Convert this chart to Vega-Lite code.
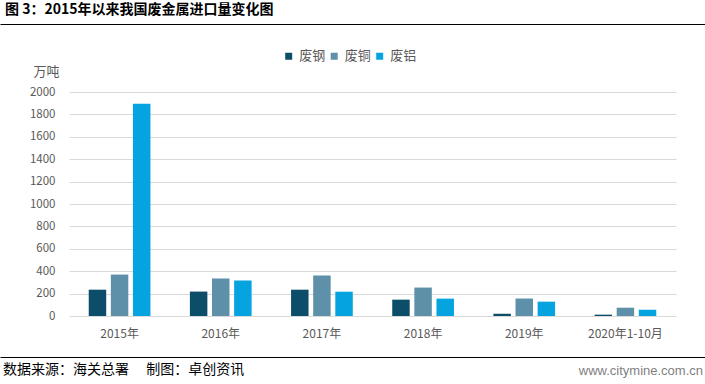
{
  "$schema": "https://vega.github.io/schema/vega-lite/v6.json",
  "padding": 0,
  "autosize": {"type": "pad"},
  "background": "white",
  "spacing": 0,
  "bounds": "full",
  "resolve": {"scale": {"color": "independent"}, "legend": {"color": "independent"}},
  "config": {
    "view": {"stroke": null},
    "font": "Noto Sans CJK SC",
    "concat": {"spacing": 0}
  },
  "datasets": {
    "imports": [
      {"period": "2015年", "metal": "废钢", "tons": 235},
      {"period": "2015年", "metal": "废铜", "tons": 370},
      {"period": "2015年", "metal": "废铝", "tons": 1895},
      {"period": "2016年", "metal": "废钢", "tons": 218},
      {"period": "2016年", "metal": "废铜", "tons": 335},
      {"period": "2016年", "metal": "废铝", "tons": 317},
      {"period": "2017年", "metal": "废钢", "tons": 235},
      {"period": "2017年", "metal": "废铜", "tons": 362},
      {"period": "2017年", "metal": "废铝", "tons": 217},
      {"period": "2018年", "metal": "废钢", "tons": 146},
      {"period": "2018年", "metal": "废铜", "tons": 254},
      {"period": "2018年", "metal": "废铝", "tons": 155},
      {"period": "2019年", "metal": "废钢", "tons": 20},
      {"period": "2019年", "metal": "废铜", "tons": 156},
      {"period": "2019年", "metal": "废铝", "tons": 128},
      {"period": "2020年1-10月", "metal": "废钢", "tons": 12},
      {"period": "2020年1-10月", "metal": "废铜", "tons": 74},
      {"period": "2020年1-10月", "metal": "废铝", "tons": 56}
    ]
  },
  "vconcat": [
    {
      "width": 705,
      "height": 17,
      "data": {"values": [{"label": "图 3：2015年以来我国废金属进口量变化图"}]},
      "mark": {"type": "text", "align": "left", "baseline": "middle", "dx": -64, "dy": 1.8, "fontSize": 14, "fontWeight": "bold", "color": "#000000", "font": "Noto Sans CJK SC"},
      "encoding": {
        "x": {"datum": 1, "type": "quantitative", "scale": {"domain": [1, 2]}, "axis": null},
        "text": {"field": "label"}
      }
    },
    {
      "width": 705,
      "height": 1,
      "data": {"values": [{"blank": ""}]},
      "mark": {"type": "text"},
      "encoding": {
        "x": {
          "datum": 1, "type": "quantitative", "scale": {"domain": [1, 2]},
          "axis": {"orient": "top", "position": -69, "minExtent": 0, "maxExtent": 0, "domain": true, "domainColor": "#000000", "domainWidth": 1, "labels": false, "ticks": false, "grid": false, "title": null}
        },
        "text": {"field": "blank"}
      }
    },
    {
      "width": 607,
      "height": 224,
      "data": {"name": "imports"},
      "mark": {"type": "bar"},
      "encoding": {
        "x": {
          "field": "period", "type": "nominal", "sort": null,
          "scale": {"paddingInner": 0.39, "paddingOuter": 0.195},
          "axis": {"title": null, "labelAngle": 0, "domain": false, "ticks": false, "labelPadding": 12, "labelFontSize": 12, "labelColor": "#595959", "minExtent": 34.7, "maxExtent": 34.7}
        },
        "xOffset": {
          "field": "metal", "type": "nominal", "sort": ["废钢", "废铜", "废铝"],
          "scale": {"paddingInner": 0.21, "paddingOuter": 0}
        },
        "y": {
          "field": "tons", "type": "quantitative",
          "scale": {"domain": [0, 2000], "nice": false},
          "axis": {
            "values": [0, 200, 400, 600, 800, 1000, 1200, 1400, 1600, 1800, 2000],
            "format": "d",
            "title": "万吨", "titleAngle": 0, "titleX": -23, "titleY": -20.5, "titleAlign": "center", "titleBaseline": "middle",
            "titleFontSize": 13, "titleFontWeight": "normal", "titleColor": "#595959",
            "domain": false, "ticks": false, "labelPadding": 14, "labelFontSize": 11.5, "labelColor": "#595959",
            "gridColor": "#D9D9D9", "gridWidth": 1, "minExtent": 69, "maxExtent": 69
          }
        },
        "color": {
          "field": "metal", "type": "nominal",
          "scale": {"domain": ["废钢", "废铜", "废铝"], "range": ["#0C4E6A", "#5E90AA", "#05A3E0"]},
          "legend": {
            "title": null, "orient": "none", "legendX": 193.8, "legendY": -61.9, "padding": 19.4,
            "direction": "horizontal", "symbolType": "square", "symbolSize": 49, "symbolStrokeWidth": 0,
            "symbolOpacity": 1, "labelFontSize": 13, "labelColor": "#595959", "columnPadding": 1.5, "labelOffset": 4
          }
        }
      }
    },
    {
      "width": 705,
      "height": 1,
      "data": {"values": [{"blank": ""}]},
      "mark": {"type": "text"},
      "encoding": {
        "x": {
          "datum": 1, "type": "quantitative", "scale": {"domain": [1, 2]},
          "axis": {"orient": "top", "position": -69, "minExtent": 0, "maxExtent": 0, "domain": true, "domainColor": "#000000", "domainWidth": 1, "labels": false, "ticks": false, "grid": false, "title": null}
        },
        "text": {"field": "blank"}
      }
    },
    {
      "width": 705,
      "height": 10,
      "data": {"values": [{"source": "数据来源：海关总署　 制图：卓创资讯", "site": "www.citymine.com.cn"}]},
      "layer": [
        {
          "mark": {"type": "text", "align": "left", "baseline": "middle", "dx": -66, "dy": 1.2, "fontSize": 14, "color": "#000000", "font": "Noto Sans CJK SC"},
          "encoding": {
            "x": {"datum": 1, "type": "quantitative", "scale": {"domain": [1, 2]}, "axis": null},
            "text": {"field": "source"}
          }
        },
        {
          "mark": {"type": "text", "align": "right", "baseline": "middle", "dx": -71, "dy": 1.8, "fontSize": 13, "color": "#7F7F7F", "font": "Liberation Sans"},
          "encoding": {
            "x": {"datum": 2, "type": "quantitative"},
            "text": {"field": "site"}
          }
        }
      ]
    },
    {
      "width": 705,
      "height": 1,
      "data": {"values": [{"blank": ""}]},
      "mark": {"type": "text"},
      "encoding": {
        "x": {
          "datum": 1, "type": "quantitative", "scale": {"domain": [1, 2]},
          "axis": {"orient": "top", "position": -69, "minExtent": 0, "maxExtent": 0, "domain": true, "domainColor": "#000000", "domainWidth": 1, "labels": false, "ticks": false, "grid": false, "title": null}
        },
        "text": {"field": "blank"}
      }
    }
  ]
}
